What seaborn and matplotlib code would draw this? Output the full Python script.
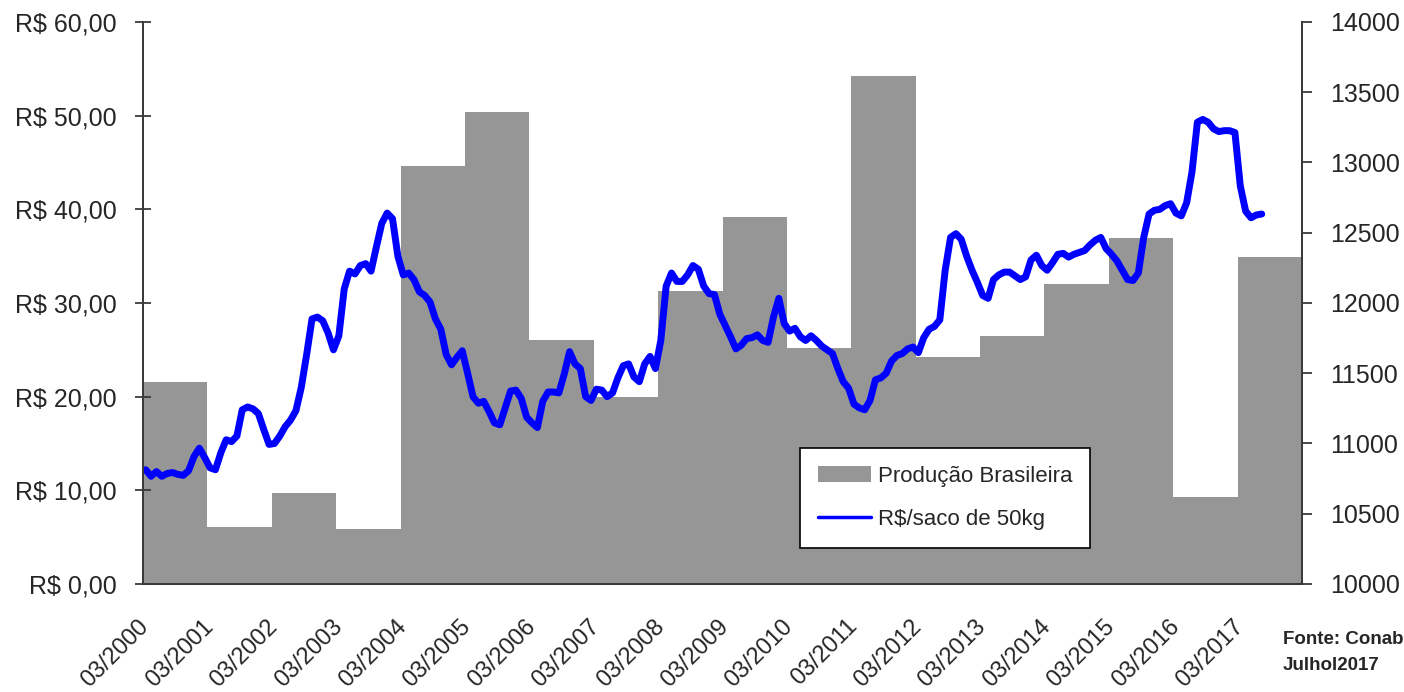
import numpy as np
import pandas as pd
import seaborn as sns
import matplotlib.pyplot as plt
from matplotlib.patches import Patch
from matplotlib.lines import Line2D
from matplotlib.ticker import FuncFormatter

# Produção brasileira por safra (mil t) - eixo direito
safras = list(range(2000, 2018))
producao = [11440, 10408, 10645, 10391, 12975, 13359, 11737, 11329, 12085,
            12614, 11677, 13616, 11613, 11765, 12135, 12465, 10621, 12330]
tick_labels = [f"03/{a}" for a in safras]

# Preço mensal R$/saco de 50kg, de 03/2000 a 07/2017 - eixo esquerdo
preco = [
    12.2, 11.5, 12.0, 11.5, 11.8, 11.9, 11.7, 11.6, 12.1, 13.6, 14.5, 13.5,   # 2000/01
    12.4, 12.2, 14.0, 15.4, 15.2, 15.8, 18.6, 18.9, 18.7, 18.2, 16.5, 14.9,   # 2001/02
    15.0, 15.8, 16.8, 17.5, 18.5, 21.0, 24.5, 28.3, 28.5, 28.1, 26.8, 25.0,   # 2002/03
    26.5, 31.5, 33.4, 33.1, 34.0, 34.2, 33.4, 36.0, 38.5, 39.6, 39.0, 35.0,   # 2003/04
    33.0, 33.2, 32.5, 31.2, 30.8, 30.1, 28.3, 27.2, 24.5, 23.4, 24.2, 24.9,   # 2004/05
    22.5, 20.0, 19.3, 19.5, 18.4, 17.2, 17.0, 18.8, 20.6, 20.7, 19.8, 17.8,   # 2005/06
    17.2, 16.7, 19.5, 20.5, 20.5, 20.4, 22.4, 24.8, 23.5, 23.0, 20.0, 19.6,   # 2006/07
    20.8, 20.7, 20.0, 20.4, 22.0, 23.3, 23.5, 22.1, 21.6, 23.5, 24.3, 23.0,   # 2007/08
    26.0, 31.8, 33.2, 32.3, 32.3, 33.0, 34.0, 33.6, 31.8, 31.0, 30.9, 28.8,   # 2008/09
    27.6, 26.4, 25.1, 25.5, 26.2, 26.3, 26.6, 26.0, 25.8, 28.5, 30.5, 27.8,   # 2009/10
    27.0, 27.3, 26.4, 26.0, 26.5, 26.0, 25.4, 25.0, 24.6, 23.0, 21.6, 20.9,   # 2010/11
    19.2, 18.8, 18.6, 19.6, 21.8, 22.0, 22.5, 23.8, 24.4, 24.6, 25.1, 25.3,   # 2011/12
    24.7, 26.3, 27.2, 27.5, 28.2, 33.5, 37.0, 37.4, 36.8, 35.0, 33.5, 32.2,   # 2012/13
    30.8, 30.5, 32.5, 33.0, 33.3, 33.3, 32.9, 32.5, 32.8, 34.6, 35.1, 34.0,   # 2013/14
    33.5, 34.3, 35.2, 35.3, 34.9, 35.2, 35.4, 35.6, 36.2, 36.7, 37.0, 35.8,   # 2014/15
    35.2, 34.5, 33.5, 32.5, 32.4, 33.2, 37.0, 39.5, 39.9, 40.0, 40.4, 40.6,   # 2015/16
    39.6, 39.3, 40.7, 44.0, 49.3, 49.6, 49.3, 48.6, 48.3, 48.4, 48.4, 48.2,   # 2016/17
    42.5, 39.8, 39.1, 39.4, 39.5,                                             # 2017
]

sns.set_style("white")
plt.rcParams['font.family'] = ['Liberation Sans', 'DejaVu Sans']

barras = pd.DataFrame({'mes': [12 * i + 5.5 for i in range(len(safras))],
                       'producao': producao})
linha = pd.DataFrame({'mes': np.arange(len(preco)), 'preco': preco})

fig = plt.figure(figsize=(14.04, 6.92), dpi=100)
ax = fig.add_axes([143 / 1404, 1 - 584 / 692, (1302 - 143) / 1404, (584 - 22) / 692])

sns.barplot(data=barras, x='mes', y='producao', native_scale=True, color='#969696',
            saturation=1, width=1, errorbar=None, linewidth=0, ax=ax)
ax2 = ax.twinx()
sns.lineplot(data=linha, x='mes', y='preco', color='#0000FF', linewidth=5, ax=ax2)

ax.set_xlim(-0.5, 215.5)
ax.set_ylim(10000, 14000)
ax2.set_ylim(0, 60)

# producao no eixo da direita, preco no da esquerda
ax.yaxis.tick_right()
ax2.yaxis.tick_left()
ax.set_yticks(range(10000, 14001, 500))
ax2.set_yticks(range(0, 61, 10))
ax2.yaxis.set_major_formatter(FuncFormatter(lambda v, p: f"R$ {v:.2f}".replace('.', ',')))
ax.set_xticks(range(0, 12 * len(safras), 12))
ax.set_xticklabels(tick_labels, rotation=45, ha='right', va='center', rotation_mode='anchor')

ax.set_xlabel('')
ax.set_ylabel('')
ax2.set_xlabel('')
ax2.set_ylabel('')

ax.tick_params(axis='x', length=0, pad=28, labelsize=17)
ax.tick_params(axis='y', direction='out', length=7, width=1.3, color='#3a3a3a', pad=13, labelsize=18)
ax2.tick_params(axis='y', direction='inout', length=12, width=1.3, color='#3a3a3a', pad=13, labelsize=18)

for a in (ax, ax2):
    a.spines['top'].set_visible(False)
    for s in ('left', 'right', 'bottom'):
        a.spines[s].set_color('#3a3a3a')
        a.spines[s].set_linewidth(1.4)
ax.spines['bottom'].set_color('black')

handles = [Patch(facecolor='#969696', edgecolor='none'),
           Line2D([], [], color='#0000FF', linewidth=2.5)]
leg = ax2.legend(handles, ['Produção Brasileira', 'R$/saco de 50kg'],
                 loc='upper left', bbox_to_anchor=(0.567, 0.242), frameon=True,
                 fancybox=False, edgecolor='black', framealpha=1, fontsize=16,
                 borderpad=0.8, labelspacing=1.0, handlelength=2.4,
                 handletextpad=0.3, borderaxespad=0)
leg.get_frame().set_linewidth(1.2)

fig.text(1283 / 1404, 1 - 640 / 692, 'Fonte: Conab', fontsize=13.5, fontweight='bold', va='center')
fig.text(1283 / 1404, 1 - 665 / 692, 'Julhol2017', fontsize=13.5, fontweight='bold', va='center')

fig.savefig('out.png', dpi=100)
